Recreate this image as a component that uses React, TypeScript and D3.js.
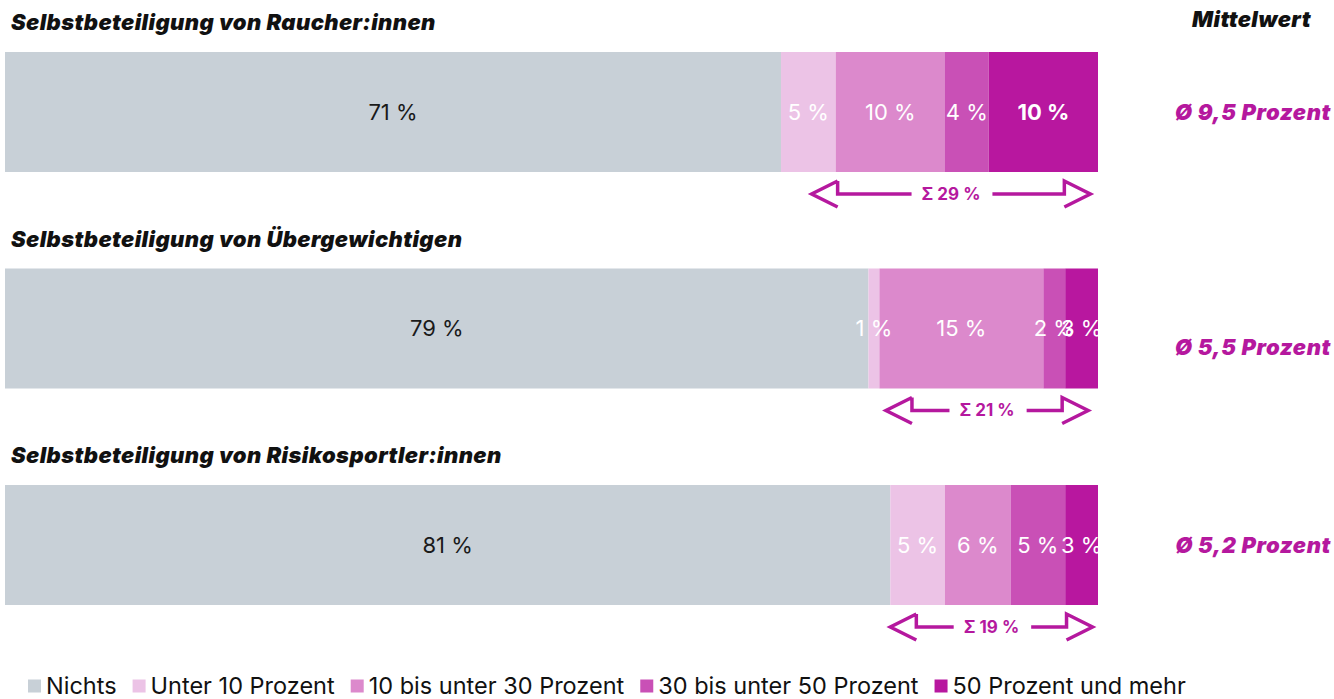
import React, { useEffect, useRef } from "react";
import * as d3 from "d3";

// rows of the chart
const titles = [
  "Selbstbeteiligung von Raucher:innen",
  "Selbstbeteiligung von Übergewichtigen",
  "Selbstbeteiligung von Risikosportler:innen",
];
const categories = [
  "Nichts",
  "Unter 10 Prozent",
  "10 bis unter 30 Prozent",
  "30 bis unter 50 Prozent",
  "50 Prozent und mehr",
];
const values = [
  [71, 5, 10, 4, 10],
  [79, 1, 15, 2, 3],
  [81, 5, 6, 5, 3],
];
const sums = ["Σ 29 %", "Σ 21 %", "Σ 19 %"];
const means = ["Ø 9,5 Prozent", "Ø 5,5 Prozent", "Ø 5,2 Prozent"];
// arrow ends, in percent on the bar scale
const arrowFrom = [73.8, 80.6, 81.0];
const arrowTo = [99.3, 99.1, 99.5];
const boldLabels = [[0, 4]];

const colors = ["#c8d0d7", "#ecc3e6", "#dc89cc", "#c950b6", "#b8179f"];
const magenta = "#b5189e";
const font = "Inter, 'Noto Sans', sans-serif";

const App = () => {
  const ref = useRef<SVGSVGElement>(null);

  useEffect(() => {
    const svg = d3.select(ref.current);
    svg.selectAll("*").remove();

    const x = d3.scaleLinear().domain([0, 100]).range([5, 1098]);
    const barH = 120;
    const meanShift = [0, 19, 0];

    const heading = (sel, size) =>
      sel
        .attr("font-family", font)
        .attr("font-size", size)
        .attr("font-weight", 900)
        .attr("font-style", "italic")
        .attr("letter-spacing", "0.4px");

    heading(svg.append("text"), "22px")
      .text("Mittelwert")
      .attr("x", 1311)
      .attr("y", 27)
      .attr("text-anchor", "end")
      .attr("fill", "#111");

    values.forEach((row, i) => {
      const top = 52 + i * 216.5;
      const g = svg.append("g");

      heading(g.append("text"), "22px")
        .text(titles[i])
        .attr("x", 11)
        .attr("y", top - 22)
        .attr("fill", "#111");

      const stacked = d3.cumsum(row);
      const segs = row.map((v, j) => ({ v, j, x0: stacked[j] - v, x1: stacked[j] }));

      g.selectAll("rect")
        .data(segs)
        .join("rect")
        .attr("x", (d) => x(d.x0))
        .attr("y", top)
        .attr("width", (d) => x(d.x1) - x(d.x0))
        .attr("height", barH)
        .attr("fill", (d) => colors[d.j]);

      g.selectAll("text.lab")
        .data(segs)
        .join("text")
        .attr("class", "lab")
        .text((d) => `${d.v} %`)
        .attr("x", (d) => (x(d.x0) + x(d.x1)) / 2)
        .attr("y", top + barH / 2)
        .attr("dy", "0.35em")
        .attr("text-anchor", "middle")
        .attr("font-family", font)
        .attr("font-size", "22px")
        .attr("font-weight", (d) => (boldLabels.some(([r, c]) => r === i && c === d.j) ? 700 : 400))
        .attr("fill", (d) => (d.j === 0 ? "#1a1a1a" : "#ffffff"));

      // mean
      heading(g.append("text"), "22px")
        .text(means[i])
        .attr("x", 1331)
        .attr("y", top + barH / 2 + meanShift[i])
        .attr("dy", "0.35em")
        .attr("text-anchor", "end")
        .attr("letter-spacing", "0.6px")
        .attr("fill", magenta);

      // sum arrow
      const ay = top + barH + 22;
      const tipL = x(arrowFrom[i]);
      const tipR = x(arrowTo[i]);
      const cx = (tipL + tipR) / 2;
      const sumText = g
        .append("text")
        .text(sums[i])
        .attr("x", cx)
        .attr("y", ay)
        .attr("dy", "0.35em")
        .attr("text-anchor", "middle")
        .attr("font-family", font)
        .attr("font-size", "17px")
        .attr("font-weight", 700)
        .attr("fill", magenta);
      const tw = (sumText.node() as SVGTextElement).getComputedTextLength();
      const depth = 26;
      const half = 13;
      const p = d3.path();
      p.moveTo(tipL + depth, ay - half);
      p.lineTo(tipL, ay);
      p.lineTo(tipL + depth, ay + half);
      p.moveTo(tipL + depth, ay - half);
      p.lineTo(tipL + depth, ay);
      p.lineTo(cx - tw / 2 - 10, ay);
      p.moveTo(cx + tw / 2 + 12, ay);
      p.lineTo(tipR - depth, ay);
      p.lineTo(tipR - depth, ay - half);
      p.lineTo(tipR, ay);
      p.lineTo(tipR - depth, ay + half);
      g.append("path")
        .attr("d", p.toString())
        .attr("fill", "none")
        .attr("stroke", magenta)
        .attr("stroke-width", 3.5)
        .attr("stroke-linejoin", "miter");
    });

    // legend
    let lx = 28;
    const ly = 686;
    categories.forEach((c, j) => {
      svg
        .append("rect")
        .attr("x", lx)
        .attr("y", ly - 6.5)
        .attr("width", 13)
        .attr("height", 13)
        .attr("fill", colors[j]);
      const t = svg
        .append("text")
        .text(c)
        .attr("x", lx + 18)
        .attr("y", ly)
        .attr("dy", "0.35em")
        .attr("font-family", font)
        .attr("font-size", "23.5px")
        .attr("fill", "#111");
      lx += 18 + (t.node() as SVGTextElement).getComputedTextLength() + 16;
    });
  });

  return (
    <svg
      ref={ref}
      width={1334}
      height={699}
      style={{ position: "absolute", left: 0, top: 0, background: "#fff" }}
    ></svg>
  );
};

export default App;
